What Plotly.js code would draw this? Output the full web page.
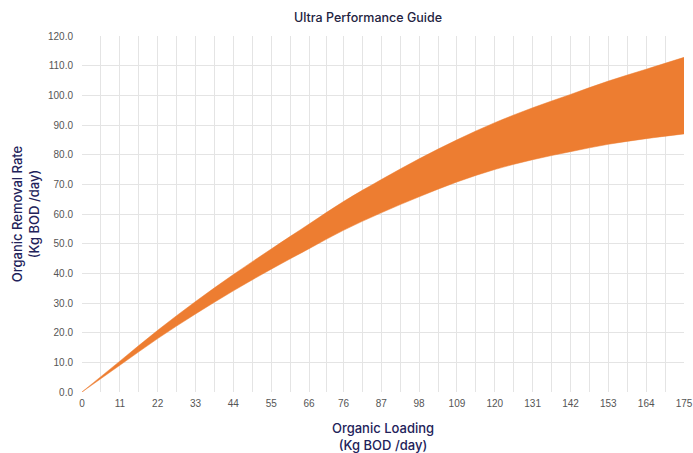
<!DOCTYPE html>
<html>
<head>
<meta charset="utf-8">
<script src="https://cdn.plot.ly/plotly-3.0.1.min.js"></script>
<style>html,body{margin:0;padding:0;background:#fff;}#chart{width:693px;height:453px;}</style>
</head>
<body>
<div id="chart"></div>
<script>
// Organic loading (Kg BOD/day) — tick labels and sample positions
const loading = [0, 11, 22, 33, 44, 55, 66, 76, 87, 98, 109, 120, 131, 142, 153, 164, 175];
const tickLabels = ["0", "11", "22", "33", "44", "55", "66", "76", "87", "98", "109", "120", "131", "142", "153", "164", "175"];
// Organic removal rate band (Kg BOD/day)
const removalUpper = [0, 10.4, 20.8, 30.5, 39.6, 48.2, 56.6, 64.2, 71.6, 78.6, 85, 90.8, 95.8, 100.3, 104.8, 108.8, 112.8];
const removalLower = [0, 9.0, 18.0, 26.3, 34.1, 41.4, 48.3, 54.5, 60.4, 65.8, 70.8, 75, 78.3, 81, 83.5, 85.4, 87];
const yTicks = [0, 10, 20, 30, 40, 50, 60, 70, 80, 90, 100, 110, 120];

const orange = '#ED7D31';
const midTicks = loading.slice(1).map((v, i) => (v + loading[i]) / 2);

const traces = [
  {x: loading, y: removalLower, mode: 'lines', line: {color: orange, width: 0.5, shape: 'spline'}, hoverinfo: 'skip', showlegend: false},
  {x: loading, y: removalUpper, mode: 'lines', line: {color: orange, width: 0.5, shape: 'spline'}, fill: 'tonexty', fillcolor: orange, showlegend: false}
];

const tickFont = {family: 'Liberation Sans, Arial, sans-serif', size: 10, color: '#555555'};
const titleFont = {family: 'Inter, sans-serif', size: 13, color: '#22225a', weight: 500};

const layout = {
  width: 693, height: 453,
  margin: {l: 82, r: 9, t: 36, b: 61},
  paper_bgcolor: '#ffffff', plot_bgcolor: '#ffffff',
  title: {text: 'Ultra Performance Guide', x: 368 / 693, xref: 'container', xanchor: 'center', y: 1 - 18 / 453, yref: 'container', yanchor: 'middle',
          font: {family: 'Inter, sans-serif', size: 12.5, color: '#23233f', weight: 500}},
  xaxis: {
    range: [0, 175], tickmode: 'array', tickvals: loading, ticktext: tickLabels,
    showgrid: true, gridcolor: '#e4e4e4', gridwidth: 1, zeroline: false, showline: false,
    ticks: '', tickfont: tickFont, ticklabelstandoff: 4,
    minor: {tickmode: 'array', tickvals: midTicks, showgrid: true, gridcolor: '#e4e4e4', gridwidth: 1, ticks: ''},
    title: {text: 'Organic Loading<br>(Kg BOD /day)', font: titleFont, standoff: 16}
  },
  yaxis: {
    range: [0, 120], tickmode: 'array', tickvals: yTicks, tickformat: '.1f',
    showgrid: true, gridcolor: '#e4e4e4', gridwidth: 1, zeroline: false, showline: false,
    ticks: '', tickfont: tickFont, ticklabelstandoff: 8,
    title: {text: 'Organic Removal Rate<br>(Kg BOD /day)', font: titleFont, standoff: 5}
  }
};

Plotly.newPlot('chart', traces, layout, {displayModeBar: false, staticPlot: true});
</script>
</body>
</html>
